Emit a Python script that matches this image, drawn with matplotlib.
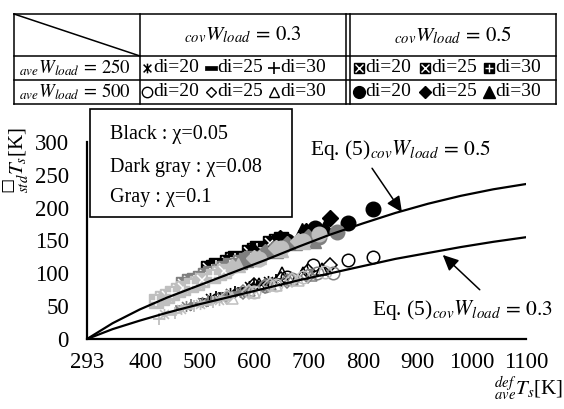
import matplotlib.pyplot as plt
from matplotlib.lines import Line2D
from matplotlib.path import Path
from matplotlib.patches import Rectangle

plt.rcParams['font.family'] = 'Liberation Serif'
plt.rcParams['mathtext.fontset'] = 'stix'

# Eq.(5) curves
eq05_x = [293, 340, 390, 440, 500, 560, 620, 680, 740, 800, 860, 920, 980, 1040, 1100]
eq05_y = [0, 24, 45, 63, 82, 101, 120, 140, 159, 176, 192, 206, 218, 228, 236]
eq03_x = [293, 340, 390, 440, 500, 560, 620, 680, 740, 800, 860, 920, 980, 1040, 1100]
eq03_y = [0, 15, 28, 40, 53, 65, 77, 89, 100, 111, 122, 131, 140, 148, 155]

# rows: black (chi=0.05), dark gray (0.08), gray (0.1)
# aveW=250, covW=0.3
ast20_x = [[520, 555, 590, 625], [475, 505, 540, 575], [435, 465, 500, 535]]
ast20_y = [[62, 70, 80, 88], [50, 57, 64, 72], [38, 46, 53, 60]]
dash25_x = [[510, 545, 580, 615], [465, 495, 530, 565], [445, 475, 510, 545]]
dash25_y = [[60, 68, 76, 85], [48, 54, 62, 70], [40, 48, 55, 62]]
plus30_x = [[530, 565, 600, 640], [485, 515, 550, 590], [425, 455, 490, 525]]
plus30_y = [[64, 72, 82, 90], [52, 58, 66, 75], [30, 40, 50, 57]]
# aveW=250, covW=0.5
sq20_x = [[525, 560, 600, 640], [480, 510, 545, 585], [430, 460, 495, 535]]
sq20_y = [[110, 122, 135, 150], [88, 97, 108, 120], [62, 74, 86, 100]]
sq25_x = [[515, 550, 590, 630], [470, 500, 535, 575], [440, 470, 505, 545]]
sq25_y = [[108, 118, 132, 146], [84, 93, 104, 117], [66, 78, 90, 104]]
sq30_x = [[530, 565, 605, 650], [490, 520, 555, 595], [420, 450, 485, 525]]
sq30_y = [[112, 124, 138, 152], [90, 100, 112, 124], [58, 70, 82, 96]]
# aveW=500, covW=0.3
ocirc20_x = [[660, 708, 773, 819], [620, 670, 715, 745], [600, 640, 690, 730]]
ocirc20_y = [[95, 113, 120, 125], [80, 92, 100, 100], [72, 82, 94, 102]]
odiam25_x = [[600, 650, 700, 740], [580, 620, 660, 700], [550, 590, 630, 670]]
odiam25_y = [[82, 92, 104, 113], [72, 80, 88, 96], [64, 72, 82, 90]]
otri30_x = [[610, 651, 690, 725], [590, 630, 670, 705], [560, 600, 640, 680]]
otri30_y = [[84, 100, 100, 106], [74, 84, 92, 98], [62, 72, 82, 90]]
# aveW=500, covW=0.5
circ20_x = [[660, 712, 773, 819], [640, 690, 720, 753], [610, 650, 690, 720]]
circ20_y = [[150, 169, 177, 198], [138, 150, 156, 163], [122, 138, 150, 160]]
diam25_x = [[600, 648, 695, 740], [580, 620, 660, 700], [560, 600, 640, 680]]
diam25_y = [[132, 154, 165, 184], [120, 132, 145, 155], [110, 124, 138, 150]]
tri30_x = [[620, 660, 688, 730], [600, 640, 675, 710], [570, 610, 650, 690]]
tri30_y = [[136, 150, 166, 172], [122, 134, 146, 150], [112, 125, 136, 148]]

xticks = [293, 400, 500, 600, 700, 800, 900, 1000, 1100]
yticks = [0, 50, 100, 150, 200, 250, 300]
colors = ['black', '#7f7f7f', '#bfbfbf']

W, H = 564, 409
def fx(x):
    return x / W
def fy(y):
    return 1 - y / H

dash_m = Path([(-1, -0.32), (1, -0.32), (1, 0.32), (-1, 0.32), (-1, -0.32)])
ast_m = Path([(0, -1), (0, 1), (-0.8, -0.8), (0.8, 0.8), (-0.8, 0.8), (0.8, -0.8)],
             [Path.MOVETO, Path.LINETO, Path.MOVETO, Path.LINETO, Path.MOVETO, Path.LINETO])

fig = plt.figure(figsize=(5.64, 4.09), dpi=100)
ax = fig.add_axes([fx(87), fy(339), (526 - 87) / W, (339 - 142) / H])

ax.plot(eq05_x, eq05_y, color='black', lw=1.6, zorder=5)
ax.plot(eq03_x, eq03_y, color='black', lw=1.6, zorder=5)

for i in [0, 1, 2]:
    c = colors[i]
    # covW=0.3, aveW=250
    ax.plot(ast20_x[i], ast20_y[i], ls='none', marker=ast_m, ms=8, mfc='none', mec=c, mew=1.2)
    ax.plot(dash25_x[i], dash25_y[i], ls='none', marker=dash_m, ms=9, mfc=c, mec=c, mew=0.5)
    ax.plot(plus30_x[i], plus30_y[i], ls='none', marker='+', ms=9, mec=c, mew=1.3)
    # covW=0.3, aveW=500
    ax.plot(ocirc20_x[i], ocirc20_y[i], ls='none', marker='o', ms=9, mfc='none', mec=c, mew=1.1)
    ax.plot(odiam25_x[i], odiam25_y[i], ls='none', marker='D', ms=7, mfc='none', mec=c, mew=1.1)
    ax.plot(otri30_x[i], otri30_y[i], ls='none', marker='^', ms=9, mfc='none', mec=c, mew=1.1)
    # covW=0.5, aveW=250
    for sx, sy, over in [(sq20_x, sq20_y, 'x'), (sq25_x, sq25_y, 'x'), (sq30_x, sq30_y, '+')]:
        ax.plot(sx[i], sy[i], ls='none', marker='s', ms=9.5, mfc=c, mec=c)
        ax.plot(sx[i], sy[i], ls='none', marker=over, ms=7.5, mec='white', mew=1.1)
    # covW=0.5, aveW=500
    ax.plot(circ20_x[i], circ20_y[i], ls='none', marker='o', ms=10.5, mfc=c, mec=c)
    ax.plot(diam25_x[i], diam25_y[i], ls='none', marker='D', ms=8, mfc=c, mec=c)
    ax.plot(tri30_x[i], tri30_y[i], ls='none', marker='^', ms=10, mfc=c, mec=c)

ax.set_xlim(293, 1100)
ax.set_ylim(0, 300)
ax.set_xticks(xticks)
ax.set_yticks(yticks)
ax.tick_params(length=0, labelsize=16.5)
ax.tick_params(axis='x', pad=9)
ax.tick_params(axis='y', pad=13)
for s in ['top', 'right']:
    ax.spines[s].set_visible(False)
for s in ['left', 'bottom']:
    ax.spines[s].set_linewidth(1.6)
ax.patch.set_alpha(0)

# arrows and equation labels
arrow = dict(arrowstyle='-|>,head_length=0.95,head_width=0.45', color='black', lw=1.1,
             shrinkA=0, shrinkB=0)
ax.annotate('', xy=(872, 193), xytext=(817, 260), arrowprops=arrow)
ax.annotate('', xy=(947, 128), xytext=(1015, 75), arrowprops=arrow)
fig.text(fx(310), fy(150), r'Eq. (5)${}_{cov}W_{load}\,=\,0.5$', fontsize=15.5, va='center')
fig.text(fx(553), fy(310), r'Eq. (5)${}_{cov}W_{load}\,=\,0.3$', fontsize=15.5, va='center', ha='right')

# axis labels
fig.text(fx(529), fy(389), r'${}^{def}_{ave}T_s$[K]', fontsize=15, ha='center', va='center')
fig.text(fx(17), fy(160), '${}^{□}_{std}T_s$[K]', fontsize=15, ha='center', va='center',
         rotation=90)

# gray-level box
fig.add_artist(Rectangle((fx(90), fy(217)), (292 - 90) / W, (217 - 109) / H,
                         transform=fig.transFigure, fc='white', ec='black', lw=1.2, zorder=6))
for yy, s in [(135, 'Black : χ=0.05'), (167, 'Dark gray : χ=0.08'), (197, 'Gray : χ=0.1')]:
    fig.text(fx(110), fy(yy), s, fontsize=14.5, va='center', zorder=7)

# table
def hline(y, x0, x1):
    fig.add_artist(Line2D([fx(x0), fx(x1)], [fy(y), fy(y)], color='black', lw=1.1))
def vline(x, y0, y1):
    fig.add_artist(Line2D([fx(x), fx(x)], [fy(y0), fy(y1)], color='black', lw=1.1))

for y in [14, 56, 80, 104]:
    hline(y, 14, 556)
for x in [14, 140, 346, 350, 556]:
    vline(x, 14, 104)
fig.add_artist(Line2D([fx(14), fx(140)], [fy(14), fy(56)], color='black', lw=1.1))

fig.text(fx(243), fy(35), r'${}_{cov}W_{load}\,=\,0.3$', fontsize=15, ha='center', va='center')
fig.text(fx(453), fy(35), r'${}_{cov}W_{load}\,=\,0.5$', fontsize=15, ha='center', va='center')
fig.text(fx(19), fy(68), r'${}_{ave}W_{load}\,=\,250$', fontsize=13.5, va='center')
fig.text(fx(19), fy(92), r'${}_{ave}W_{load}\,=\,500$', fontsize=13.5, va='center')

def tmark(x, y, **kw):
    fig.add_artist(Line2D([fx(x)], [fy(y)], ls='none', color='black', **kw))

row2 = [dict(marker=ast_m, ms=7, mfc='none', mec='black', mew=1.1),
        dict(marker=dash_m, ms=8, mfc='black', mec='black', mew=0.5),
        dict(marker='+', ms=8, mec='black', mew=1.2),
        dict(marker='s', ms=7.5, mfc='black', mec='black'),
        dict(marker='s', ms=7.5, mfc='black', mec='black'),
        dict(marker='s', ms=7.5, mfc='black', mec='black')]
row2_over = [None, None, None, 'x', 'x', '+']
row3 = [dict(marker='o', ms=7.5, mfc='none', mec='black', mew=1),
        dict(marker='D', ms=5.5, mfc='none', mec='black', mew=1),
        dict(marker='^', ms=7.5, mfc='none', mec='black', mew=1),
        dict(marker='o', ms=8.5, mfc='black', mec='black'),
        dict(marker='D', ms=6, mfc='black', mec='black'),
        dict(marker='^', ms=8.5, mfc='black', mec='black')]
mark_x = [147, 211, 274, 359, 425, 489]
di_labels = ['di=20', 'di=25', 'di=30', 'di=20', 'di=25', 'di=30']
for k in range(6):
    tmark(mark_x[k], 68, **row2[k])
    if row2_over[k]:
        tmark(mark_x[k], 68, marker=row2_over[k], ms=6, mec='white', mew=1)
    tmark(mark_x[k], 92, **row3[k])
    fig.text(fx(mark_x[k] + 6), fy(68), di_labels[k], fontsize=14, va='center')
    fig.text(fx(mark_x[k] + 6), fy(92), di_labels[k], fontsize=14, va='center')

fig.savefig('out.png', dpi=100)
